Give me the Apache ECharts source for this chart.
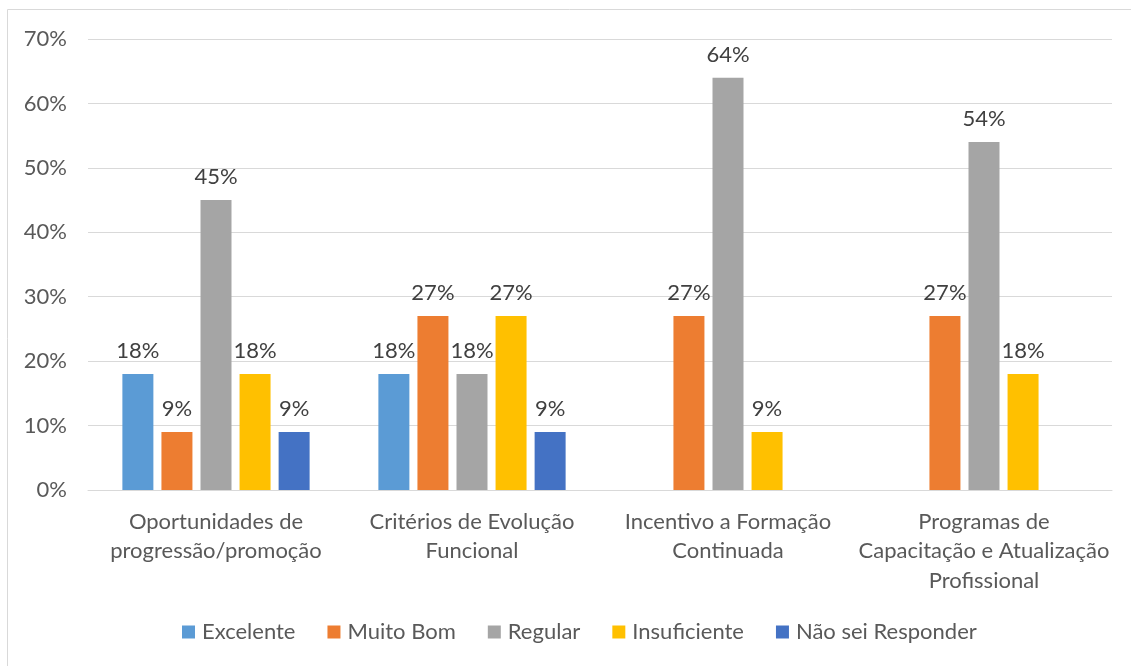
<!DOCTYPE html>
<html><head><meta charset="utf-8">
<script src="https://cdn.jsdelivr.net/npm/echarts@6/dist/echarts.min.js"></script>
<style>html,body{margin:0;padding:0;background:#fff}#c{width:1131px;height:666px}</style>
</head><body><div id="c"></div>
<script>
const categories = ["Oportunidades de\nprogressão/promoção", "Critérios de Evolução\nFuncional", "Incentivo a Formação\nContinuada", "Programas de\nCapacitação e Atualização\nProfissional"];
const seriesNames = ["Excelente", "Muito Bom", "Regular", "Insuficiente", "Não sei Responder"];
const excelente = [18, 18, null, null];
const muitoBom = [9, 27, 27, 27];
const regular = [45, 18, 64, 54];
const insuficiente = [18, 27, 9, 18];
const naoSei = [9, 9, null, null];
const values = [excelente, muitoBom, regular, insuficiente, naoSei];
const colors = ["#5B9BD5", "#ED7D31", "#A5A5A5", "#FFC000", "#4472C4"];
const font = "Lato, 'Open Sans', sans-serif";

const chart = echarts.init(document.getElementById('c'), null, {renderer: 'canvas'});
chart.setOption({
  animation: false,
  color: colors,
  textStyle: {fontFamily: font},
  graphic: [{type: 'rect', shape: {x: 7.5, y: 9.5, width: 1140, height: 680}, style: {fill: null, stroke: '#d9d9d9', lineWidth: 1}, silent: true}],
  grid: {left: 88, right: 19, top: 39, bottom: 176, containLabel: false},
  legend: {
    bottom: 18, left: 177, itemWidth: 13, itemHeight: 13, itemGap: 32,
    icon: 'rect',
    textStyle: {color: '#595959', fontSize: 22, fontFamily: font, padding: [0, 0, 0, 2]},
    data: seriesNames
  },
  xAxis: {
    type: 'category', data: categories,
    axisLine: {lineStyle: {color: '#d9d9d9', width: 1}},
    axisTick: {show: false},
    axisLabel: {color: '#595959', fontSize: 22, lineHeight: 29.5, margin: 17, interval: 0, fontFamily: font}
  },
  yAxis: {
    type: 'value', min: 0, max: 70, interval: 10,
    axisLine: {show: false}, axisTick: {show: false},
    splitLine: {lineStyle: {color: '#d9d9d9', width: 1}},
    axisLabel: {color: '#595959', fontSize: 22, margin: 21, formatter: v => v + '%', fontFamily: font}
  },
  series: seriesNames.map((n, i) => ({
    name: n, type: 'bar', data: values[i], barWidth: 31, barGap: '26%',
    itemStyle: {color: colors[i]},
    label: {show: true, position: 'top', distance: 12, color: '#404040', fontSize: 22, fontFamily: font, formatter: p => p.value == null ? '' : p.value + '%'}
  }))
});
</script></body></html>
